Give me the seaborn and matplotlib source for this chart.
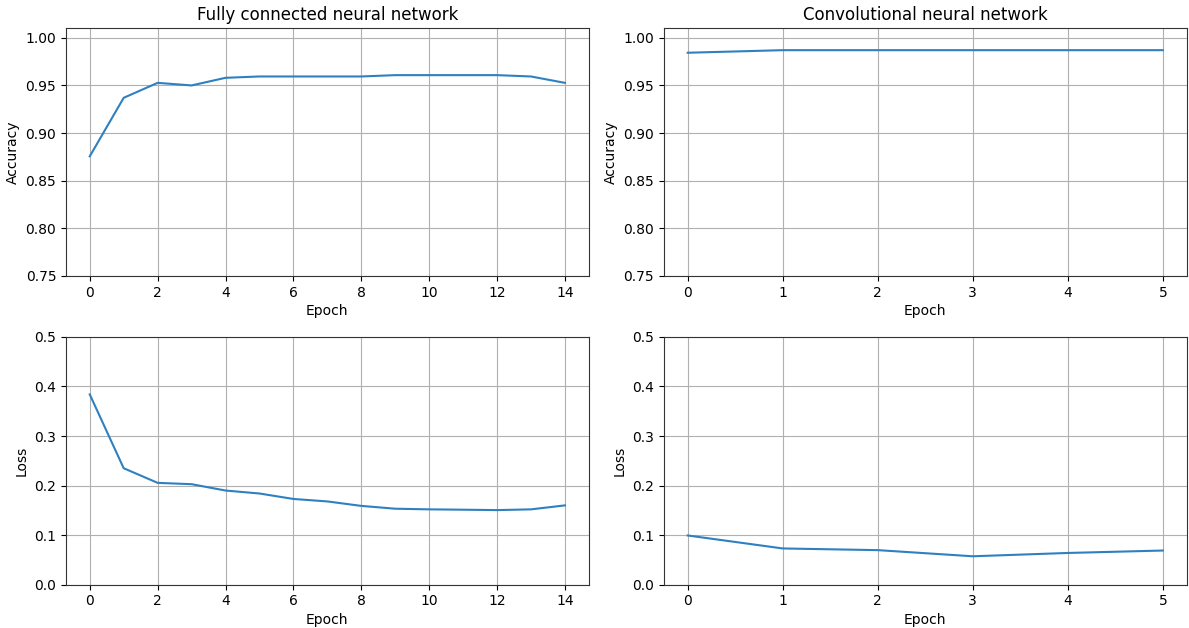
import matplotlib
matplotlib.use("Agg")
import matplotlib.pyplot as plt
import numpy as np
import pandas as pd
import seaborn as sns

# Training history of the two models
fc_epochs = list(range(15))
fc_accuracy = [0.8756, 0.937, 0.9527, 0.950, 0.958, 0.9594, 0.9594, 0.9594,
               0.9594, 0.9608, 0.9608, 0.9608, 0.9608, 0.9594, 0.9527]
fc_loss = [0.384, 0.235, 0.2055, 0.2028, 0.190, 0.184, 0.173, 0.168,
           0.159, 0.1533, 0.152, 0.1513, 0.1505, 0.152, 0.160]

cnn_epochs = list(range(6))
cnn_accuracy = [0.9843, 0.987, 0.987, 0.987, 0.987, 0.987]
cnn_loss = [0.0993, 0.0731, 0.0697, 0.0573, 0.064, 0.0689]

titles = ["Fully connected neural network", "Convolutional neural network"]

fc = pd.DataFrame({"Epoch": fc_epochs, "Accuracy": fc_accuracy, "Loss": fc_loss})
cnn = pd.DataFrame({"Epoch": cnn_epochs, "Accuracy": cnn_accuracy, "Loss": cnn_loss})

plt.rcParams["font.family"] = ["DejaVu Sans"]
fig, axes = plt.subplots(2, 2, figsize=(11.89, 6.28), dpi=100)
fig.subplots_adjust(left=0.0555, right=0.998, top=0.955, bottom=0.069,
                    hspace=0.246, wspace=0.144)

for col, (df, title) in enumerate([(fc, titles[0]), (cnn, titles[1])]):
    ax_acc = axes[0, col]
    ax_loss = axes[1, col]
    sns.lineplot(data=df, x="Epoch", y="Accuracy", ax=ax_acc, color="#2f80c0", linewidth=1.5)
    sns.lineplot(data=df, x="Epoch", y="Loss", ax=ax_loss, color="#2f80c0", linewidth=1.5)

    ax_acc.set_title(title, fontsize=12)
    ax_acc.set_ylim(0.75, 1.01)
    ax_acc.set_yticks(np.arange(0.75, 1.001, 0.05))
    ax_loss.set_ylim(0.0, 0.5)
    ax_loss.set_yticks(np.arange(0.0, 0.501, 0.1))
    ax_loss.set_yticklabels([f"{v:.1f}" for v in np.arange(0.0, 0.501, 0.1)])

    step = 2 if len(df) > 6 else 1
    for ax in (ax_acc, ax_loss):
        ax.set_xticks(range(0, len(df), step))
        ax.grid(True, color="#b0b0b0", linewidth=0.8)
        ax.set_xlabel("Epoch", fontsize=10, labelpad=3)
        ax.tick_params(labelsize=10)
        for spine in ax.spines.values():
            spine.set_color("#333333")
    ax_acc.set_ylabel("Accuracy", fontsize=10)
    ax_loss.set_ylabel("Loss", fontsize=10)

fig.savefig("out.png", dpi=100)
